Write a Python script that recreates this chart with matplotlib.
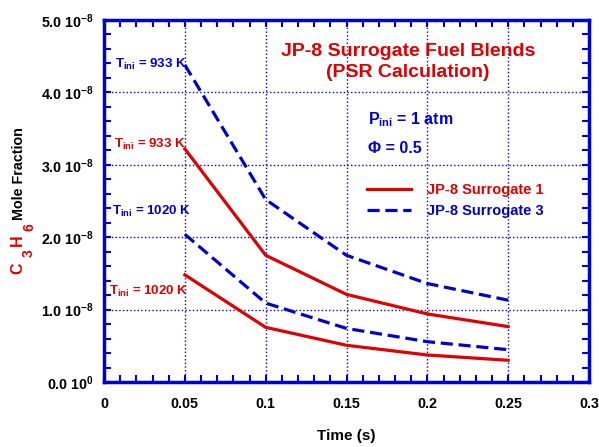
import matplotlib
matplotlib.use("Agg")
import matplotlib.pyplot as plt
from matplotlib.ticker import MultipleLocator, FixedLocator, FixedFormatter

plt.rcParams['font.family'] = ['Liberation Sans', 'DejaVu Sans']
plt.rcParams['font.weight'] = 'bold'
plt.rcParams['mathtext.fontset'] = 'custom'
plt.rcParams['mathtext.rm'] = 'Liberation Sans:bold'
plt.rcParams['mathtext.it'] = 'Liberation Sans:bold'
plt.rcParams['mathtext.bf'] = 'Liberation Sans:bold'
plt.rcParams['mathtext.default'] = 'bf'

time_s = [0.05, 0.1, 0.15, 0.2, 0.25]
s1_933 = [3.22e-8, 1.75e-8, 1.21e-8, 0.94e-8, 0.765e-8]
s1_1020 = [1.48e-8, 0.755e-8, 0.507e-8, 0.373e-8, 0.30e-8]
s3_933 = [4.38e-8, 2.52e-8, 1.75e-8, 1.36e-8, 1.13e-8]
s3_1020 = [2.04e-8, 1.09e-8, 0.74e-8, 0.557e-8, 0.446e-8]

xticks = [0, 0.05, 0.1, 0.15, 0.2, 0.25, 0.3]
xticklabels = ['0', '0.05', '0.1', '0.15', '0.2', '0.25', '0.3']
yticks = [0, 1e-8, 2e-8, 3e-8, 4e-8, 5e-8]
yticklabels = ['0.0 10$^{0}$', '1.0 10$^{-8}$', '2.0 10$^{-8}$', '3.0 10$^{-8}$',
               '4.0 10$^{-8}$', '5.0 10$^{-8}$']

RED = '#dd0000'
BLUE = '#0000cc'
W, H = 599, 447

fig = plt.figure(figsize=(W / 100, H / 100), dpi=100)
ax = fig.add_axes([104 / W, 1 - 382 / H, (589 - 104) / W, (382 - 20) / H])

DASH = (3.8, 1.8)
ax.plot(time_s, s1_933, color=RED, lw=2.3, label='JP-8 Surrogate 1')
ax.plot(time_s, s1_1020, color=RED, lw=2.3)
ax.plot(time_s, s3_933, color=BLUE, lw=2.3, dashes=DASH, label='JP-8 Surrogate 3')
ax.plot(time_s, s3_1020, color=BLUE, lw=2.3, dashes=DASH)

ax.set_xlim(0, 0.3)
ax.set_ylim(0, 5e-8)
ax.xaxis.set_major_locator(FixedLocator(xticks))
ax.xaxis.set_major_formatter(FixedFormatter(xticklabels))
ax.yaxis.set_major_locator(FixedLocator(yticks))
ax.yaxis.set_major_formatter(FixedFormatter(yticklabels))
ax.xaxis.set_minor_locator(MultipleLocator(0.01))
ax.yaxis.set_minor_locator(MultipleLocator(0.2e-8))
ax.tick_params(which='both', direction='in', top=True, right=True, color=BLUE,
               width=1.5, length=5, labelsize=10.3, labelcolor='black')
ax.tick_params(axis='x', pad=11)
ax.tick_params(axis='y', pad=7)
for sp in ax.spines.values():
    sp.set_color(BLUE)
    sp.set_linewidth(2.5)
ax.grid(True, which='major', color=BLUE, linestyle=':', linewidth=1)

ax.set_xlabel('Time (s)', fontsize=11, fontweight='bold', labelpad=13)

# y-axis label: C3H6 (red, with large subscripts) + Mole Fraction (black)
for s, x, y, fs in [('C', 17.5, 268.5, 11.5), ('3', 29, 253, 10),
                    ('H', 17.5, 240, 11.5), ('6', 29, 227.5, 10)]:
    fig.text(x / W, 1 - y / H, s, color=RED, rotation=90, fontsize=fs,
             ha='center', va='center')
fig.text(19 / W, 1 - 220 / H, 'Mole Fraction', color='black', rotation=90,
         fontsize=10.3, ha='center', va='bottom')

ax.text(0.188, 4.42e-8, 'JP-8 Surrogate Fuel Blends\n(PSR Calculation)', color=RED,
        fontsize=14, ha='center', va='center', linespacing=1.35)
ax.text(0.163, 3.62e-8, 'P$_{ini}$ = 1 atm', color=BLUE, fontsize=11.5, ha='left', va='center')
ax.text(0.163, 3.22e-8, '\u03a6 = 0.5', color=BLUE, fontsize=11.5, ha='left', va='center')

ax.text(0.007, 4.38e-8, 'T$_{ini}$ = 933 K', color=BLUE, fontsize=9.5, ha='left', va='center')
ax.text(0.006, 3.28e-8, 'T$_{ini}$ = 933 K', color=RED, fontsize=9.5, ha='left', va='center')
ax.text(0.005, 2.35e-8, 'T$_{ini}$ = 1020 K', color=BLUE, fontsize=9.5, ha='left', va='center')
ax.text(0.003, 1.25e-8, 'T$_{ini}$ = 1020 K', color=RED, fontsize=9.5, ha='left', va='center')

leg = ax.legend(loc='upper left', bbox_to_anchor=(0.515, 0.585), frameon=False,
                fontsize=10.5, handlelength=3.0, handletextpad=1.1, labelspacing=0.45)
for txt, c in zip(leg.get_texts(), [RED, BLUE]):
    txt.set_color(c)

fig.savefig('out.png', dpi=100)
